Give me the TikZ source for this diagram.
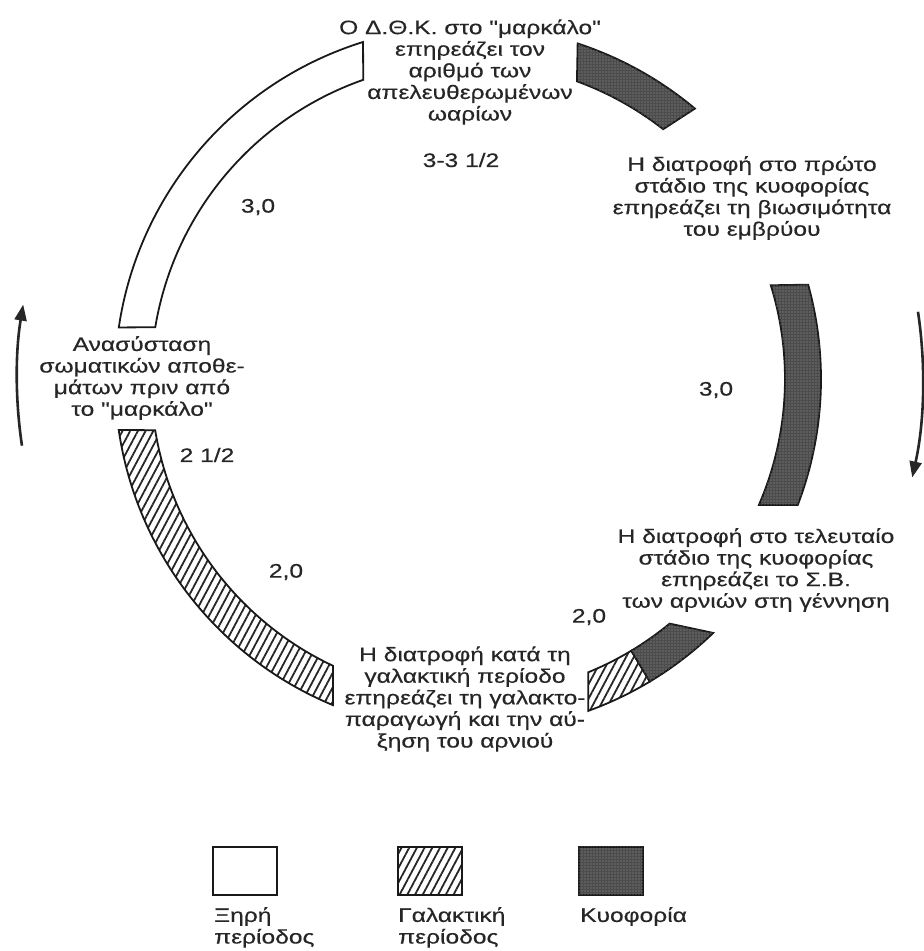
\documentclass[tikz,border=0pt]{standalone}
\usepackage{fontspec}
\setmainfont{Liberation Sans}[FakeStretch=1.26, FakeBold=0.4, Ligatures=TeXOff]
\usetikzlibrary{patterns.meta,arrows.meta}

\begin{document}
\begin{tikzpicture}[x=1pt,y=1pt]
    \tikzstyle{band}=[draw=black!90, line width=1.8pt]
    \tikzstyle{dry band}=[band, fill=white]
    \tikzstyle{milk band}=[band, pattern={Lines[angle=62,distance=6.8pt,line width=1.8pt]}, pattern color=black!85]
    \tikzstyle{preg band}=[band, fill=black!70, postaction={pattern={Dots[distance=3pt,radius=0.6pt]}, pattern color=white!60!black}]
    \tikzstyle{annot}=[align=center, font=\fontsize{19.5}{21.6}\selectfont, inner sep=0pt, text=black!85]
    \tikzstyle{score}=[font=\fontsize{19.5}{21.6}\selectfont, inner sep=0pt, text=black!85]
    \tikzstyle{cycle arrow}=[-{Triangle[length=16pt,width=12pt]}, line width=2.6pt, black!85]

    \useasboundingbox (0,0) rectangle (924,-951);

    % Draw the ring segments round the centre of the cycle
    \begin{scope}[shift={(468,-379)}]
    \foreach \oa/\ob/\ia/\ib/\kind in {107.3/171.6/109.3/170.6/dry band,
                                        188.3/247.5/189.3/244.8/milk band,
                                        289.9/301/292.3/301/milk band,
                                        301/314/301/309.5/preg band,
                                        -20.9/15.5/-23.4/17.2/preg band,
                                        50/71.9/52/69.9/preg band}
        \draw[\kind] (\oa:353pt) arc[start angle=\oa, end angle=\ob, radius=353pt]
            -- (\ib:317pt) arc[start angle=\ib, end angle=\ia, radius=317pt] -- cycle;

    % Draw the direction arrows
    \draw[cycle arrow] (188.5:451pt) arc[start angle=188.5, end angle=170.5, radius=451pt];
    \draw[cycle arrow] (8.5:455pt) arc[start angle=8.5, end angle=-12.5, radius=455pt];
    \end{scope}

    % Annotate the stages of the cycle
    \node[annot] (mating) at (470,-72) {Ο Δ.Θ.Κ. στο "μαρκάλο"\\επηρεάζει τον\\αριθμό των\\απελευθερωμένων\\ωαρίων};
    \node[annot] (early) at (752,-198) {Η διατροφή στο πρώτο\\στάδιο της κυοφορίας\\επηρεάζει τη βιωσιμότητα\\του εμβρύου};
    \node[annot] (late) at (756,-570) {Η διατροφή στο τελευταίο\\στάδιο της κυοφορίας\\επηρεάζει το Σ.Β.\\των αρνιών στη γέννηση};
    \node[annot] (lactation) at (465,-699) {Η διατροφή κατά τη\\γαλακτική περίοδο\\επηρεάζει τη γαλακτο-\\παραγωγή και την αύ-\\ξηση του αρνιού};
    \node[annot] (recovery) at (142,-378) {Ανασύσταση\\σωματικών αποθε-\\μάτων πριν από\\το "μαρκάλο"};

    % Body condition scores
    \node[score] (bcs-mating) at (461,-160) {3-3 1/2};
    \node[score] (bcs-early) at (258,-207) {3,0};
    \node[score] (bcs-mid) at (716,-390) {3,0};
    \node[score] (bcs-birth) at (589,-617) {2,0};
    \node[score] (bcs-weaning) at (286,-572) {2,0};
    \node[score] (bcs-recovery) at (207,-455) {2 1/2};

    % Draw the key
    \foreach \name/\x/\kind in {dry/212/dry band, milk/397/milk band, preg/578/preg band}
        \node[\kind, minimum width=64pt, minimum height=48pt, inner sep=0pt, anchor=north west] (key-\name) at (\x,-846) {};
    \node[score, anchor=north west, align=left] (key-dry-text) at (214,-907) {Ξηρή\\περίοδος};
    \node[score, anchor=north west, align=left] (key-milk-text) at (398,-907) {Γαλακτική\\περίοδος};
    \node[score, anchor=north west, align=left] (key-preg-text) at (580,-907) {Κυοφορία};
\end{tikzpicture}
\end{document}
